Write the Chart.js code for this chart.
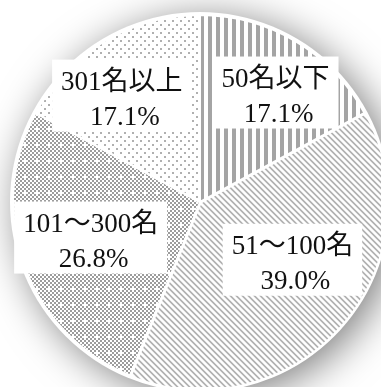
<!DOCTYPE html>
<html lang="ja">
<head>
<meta charset="utf-8">
<title>規模別構成比</title>
<script src="https://cdn.jsdelivr.net/npm/chart.js@4.4.1/dist/chart.umd.min.js"></script>
<style>
  html, body { margin: 0; padding: 0; background: #fff; overflow: hidden; }
  #wrap { width: 381px; height: 387px; position: relative; }
  #chart { display: block; width: 381px; height: 387px; }
</style>
</head>
<body>
<div id="wrap"><canvas id="chart" width="381" height="387"></canvas></div>
<script>
// 区分ごとの割合（%）
const categories = ["50名以下", "51〜100名", "101〜300名", "301名以上"];
const shares = [17.1, 39.0, 26.8, 17.1];
// ラベルの置き場所（中心からの角度[度], 距離[px]）
const labelPlace = [[34.6, 133], [122, 109], [252, 115], [323.7, 132]];

const canvas = document.getElementById("chart");
const mainCtx = canvas.getContext("2d");

// 小さいタイルを作ってパターンにする
function makePattern(w, h, draw) {
  const c = document.createElement("canvas");
  c.width = w; c.height = h;
  const g = c.getContext("2d");
  g.fillStyle = "#fff";
  g.fillRect(0, 0, w, h);
  draw(g);
  return mainCtx.createPattern(c, "repeat");
}

const vertStripes = makePattern(8, 8, g => {
  g.fillStyle = "#a4a4a4";
  g.fillRect(0, 0, 4, 8);
});

const diagStripes = makePattern(6, 6, g => {
  g.fillStyle = "#a2a2a2";
  for (let y = 0; y < 6; y++) {
    g.fillRect(y % 6, y, 2, 1);
    if (y === 5) g.fillRect(0, y, 1, 1);
  }
});

const checkDots = makePattern(12, 16, g => {
  g.fillStyle = "#9c9c9c";
  for (let y = 0; y < 16; y += 2) {
    for (let x = 0; x < 12; x += 2) {
      if (((x + y) / 2) % 2 === 0) g.fillRect(x, y, 2, 2);
    }
  }
  g.fillStyle = "#fff";
  g.fillRect(0, 0, 2, 2);
  g.fillRect(6, 8, 2, 2);
});

const sparseDots = makePattern(8, 8, g => {
  g.fillStyle = "#b0b0b0";
  g.fillRect(0, 0, 2, 2);
  g.fillRect(4, 4, 2, 2);
});

// 円の下にぼかした影を敷く
const pieShadow = {
  id: "pieShadow",
  beforeDatasetsDraw(chart) {
    const arc = chart.getDatasetMeta(0).data[0];
    const ctx = chart.ctx;
    ctx.save();
    ctx.shadowColor = "rgba(0,0,0,0.5)";
    ctx.shadowBlur = 40;
    ctx.shadowOffsetX = 8;
    ctx.shadowOffsetY = 6;
    ctx.fillStyle = "#fff";
    ctx.beginPath();
    ctx.arc(arc.x, arc.y, arc.outerRadius + 3, 0, Math.PI * 2);
    ctx.fill();
    ctx.restore();
  }
};

// 白い箱に区分名と割合を書く
const boxLabels = {
  id: "boxLabels",
  afterDatasetsDraw(chart, args, opts) {
    const ctx = chart.ctx;
    const meta = chart.getDatasetMeta(0);
    ctx.save();
    ctx.font = opts.font;
    ctx.textAlign = "center";
    ctx.textBaseline = "alphabetic";
    meta.data.forEach((arc, i) => {
      const [deg, dist] = opts.place[i];
      const a = deg * Math.PI / 180;
      const cx = arc.x + dist * Math.sin(a);
      const cy = arc.y - dist * Math.cos(a);
      const lines = [categories[i], shares[i].toFixed(1) + "%"];
      const w = Math.max(...lines.map(t => ctx.measureText(t).width)) + 2 * opts.padX;
      const h = opts.boxH;
      const top = cy - h / 2;
      ctx.fillStyle = "#fff";
      ctx.fillRect(cx - w / 2, top, w, h);
      ctx.fillStyle = "#111";
      ctx.fillText(lines[0], cx, top + opts.base1);
      ctx.fillText(lines[1], cx + 3, top + opts.base2);
    });
    ctx.restore();
  }
};

new Chart(canvas, {
  type: "pie",
  data: {
    labels: categories,
    datasets: [{
      data: shares,
      backgroundColor: [vertStripes, diagStripes, checkDots, sparseDots],
      borderColor: "#fff",
      borderWidth: 2,
      offset: [0, 4, 0, 0],
      clip: false
    }]
  },
  options: {
    responsive: false,
    animation: false,
    events: [],
    radius: 187,
    layout: { padding: { left: 19, top: 17, right: 0, bottom: 0 } },
    plugins: {
      legend: { display: false },
      tooltip: { enabled: false },
      boxLabels: {
        place: labelPlace,
        font: '27px "Liberation Serif", "Noto Sans CJK JP", serif',
        padX: 9,
        boxH: 72,
        base1: 30,
        base2: 65
      }
    }
  },
  plugins: [pieShadow, boxLabels]
});
</script>
</body>
</html>
